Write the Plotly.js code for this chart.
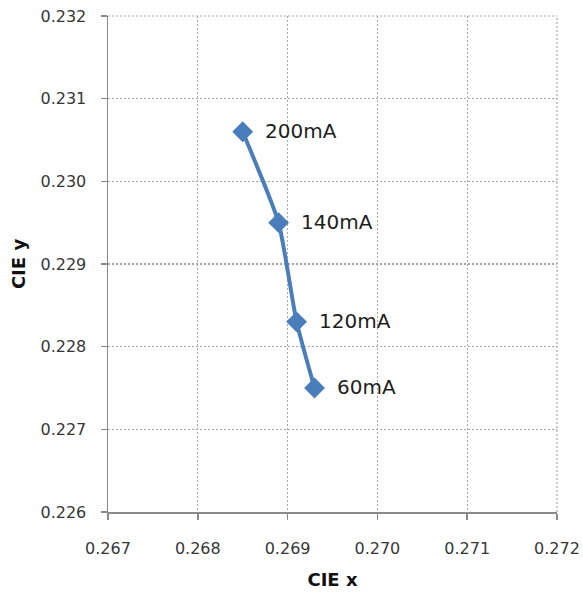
<!DOCTYPE html>
<html>
<head>
<meta charset="utf-8">
<script src="https://cdn.plot.ly/plotly-3.0.1.min.js"></script>
<style>html,body{margin:0;padding:0;background:#fff;}#chart{width:583px;height:599px;}</style>
</head>
<body>
<div id="chart"></div>
<script>
const labels = ["200mA", "140mA", "120mA", "60mA"];
const cieX = [0.2685, 0.2689, 0.2691, 0.2693];
const cieY = [0.2306, 0.2295, 0.2283, 0.2275];
const xTicks = [0.267, 0.268, 0.269, 0.270, 0.271, 0.272];
const yTicks = [0.226, 0.227, 0.228, 0.229, 0.230, 0.231, 0.232];

const fontFam = "'DejaVu Sans', 'Liberation Sans', sans-serif";

const trace = {
  x: cieX, y: cieY, mode: 'lines+markers', type: 'scatter',
  line: {color: '#4A7EBB', width: 4, shape: 'spline', smoothing: 0.5},
  marker: {symbol: 'diamond', size: 16, color: '#4A7EBB'},
  hoverinfo: 'none', cliponaxis: false
};

const annotations = labels.map((t, i) => ({
  x: cieX[i], y: cieY[i], xref: 'x', yref: 'y', text: t, showarrow: false,
  xanchor: 'left', yanchor: 'middle', xshift: 20, yshift: 1,
  font: {family: fontFam, size: 20, color: '#1e1e1e'}
}));

const gridCol = '#a6a6a6';
const axisCommon = {
  showgrid: true, gridcolor: gridCol, griddash: '2px,2px', gridwidth: 1.2,
  showline: true, linecolor: '#8a8a8a', linewidth: 1.5,
  ticks: 'outside', ticklen: 6, tickcolor: '#8a8a8a', tickwidth: 1.5,
  zeroline: false, tickfont: {family: fontFam, size: 16, color: '#363636'},
  fixedrange: true
};

const layout = {
  width: 583, height: 599,
  margin: {l: 108, r: 26, t: 16, b: 87},
  paper_bgcolor: '#ffffff', plot_bgcolor: '#ffffff',
  showlegend: false,
  xaxis: Object.assign({}, axisCommon, {
    range: [0.267, 0.272], tickvals: xTicks, ticktext: xTicks.map(v => v.toFixed(3)),
    ticklabelstandoff: 15,
    title: {text: 'CIE x', font: {family: fontFam, size: 18, color: '#111', weight: 'bold'}, standoff: 16}
  }),
  yaxis: Object.assign({}, axisCommon, {
    range: [0.226, 0.232], tickvals: yTicks, ticktext: yTicks.map(v => v.toFixed(3)),
    ticklabelstandoff: 11,
    title: {text: 'CIE y', font: {family: fontFam, size: 18, color: '#111', weight: 'bold'}, standoff: 10}
  }),
  shapes: [
    {type: 'line', xref: 'paper', yref: 'paper', x0: 0, x1: 1, y0: 1, y1: 1,
     line: {color: gridCol, width: 1.2, dash: '2px,2px'}, layer: 'below'},
    {type: 'line', xref: 'paper', yref: 'paper', x0: 1, x1: 1, y0: 0, y1: 1,
     line: {color: gridCol, width: 1.2, dash: '2px,2px'}, layer: 'below'}
  ],
  annotations: annotations
};

Plotly.newPlot('chart', [trace], layout, {displayModeBar: false, staticPlot: true});
</script>
</body>
</html>
